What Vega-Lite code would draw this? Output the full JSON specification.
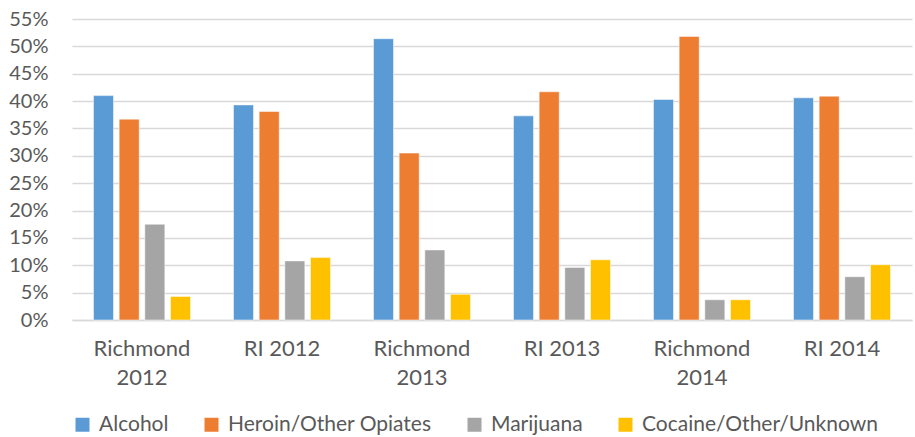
{
  "$schema": "https://vega.github.io/schema/vega-lite/v6.json",
  "autosize": {"type": "none"},
  "width": 840,
  "height": 301,
  "padding": {"left": 72, "top": 19, "right": 3, "bottom": 117},
  "background": "white",
  "data": {"values": [
    {"group": "Richmond 2012", "drug": "Alcohol", "value": 0.410},
    {"group": "Richmond 2012", "drug": "Heroin/Other Opiates", "value": 0.367},
    {"group": "Richmond 2012", "drug": "Marijuana", "value": 0.175},
    {"group": "Richmond 2012", "drug": "Cocaine/Other/Unknown", "value": 0.043},
    {"group": "RI 2012", "drug": "Alcohol", "value": 0.393},
    {"group": "RI 2012", "drug": "Heroin/Other Opiates", "value": 0.381},
    {"group": "RI 2012", "drug": "Marijuana", "value": 0.108},
    {"group": "RI 2012", "drug": "Cocaine/Other/Unknown", "value": 0.114},
    {"group": "Richmond 2013", "drug": "Alcohol", "value": 0.514},
    {"group": "Richmond 2013", "drug": "Heroin/Other Opiates", "value": 0.305},
    {"group": "Richmond 2013", "drug": "Marijuana", "value": 0.128},
    {"group": "Richmond 2013", "drug": "Cocaine/Other/Unknown", "value": 0.047},
    {"group": "RI 2013", "drug": "Alcohol", "value": 0.373},
    {"group": "RI 2013", "drug": "Heroin/Other Opiates", "value": 0.417},
    {"group": "RI 2013", "drug": "Marijuana", "value": 0.096},
    {"group": "RI 2013", "drug": "Cocaine/Other/Unknown", "value": 0.110},
    {"group": "Richmond 2014", "drug": "Alcohol", "value": 0.403},
    {"group": "Richmond 2014", "drug": "Heroin/Other Opiates", "value": 0.518},
    {"group": "Richmond 2014", "drug": "Marijuana", "value": 0.037},
    {"group": "Richmond 2014", "drug": "Cocaine/Other/Unknown", "value": 0.037},
    {"group": "RI 2014", "drug": "Alcohol", "value": 0.406},
    {"group": "RI 2014", "drug": "Heroin/Other Opiates", "value": 0.409},
    {"group": "RI 2014", "drug": "Marijuana", "value": 0.079},
    {"group": "RI 2014", "drug": "Cocaine/Other/Unknown", "value": 0.101}
  ]},
  "mark": {"type": "bar", "stroke": "white", "strokeWidth": 0.5},
  "encoding": {
    "x": {
      "field": "group", "type": "nominal",
      "sort": ["Richmond 2012", "RI 2012", "Richmond 2013", "RI 2013", "Richmond 2014", "RI 2014"],
      "scale": {"paddingInner": 0.307, "paddingOuter": 0.1535},
      "axis": {
        "title": null, "labelAngle": 0, "ticks": false,
        "domainColor": "#d9d9d9", "domainWidth": 1.5,
        "labelFont": "Lato", "labelFontSize": 22, "labelColor": "#595959",
        "labelPadding": 18, "labelLineHeight": 29, "labelBaseline": "top",
        "labelExpr": "indexof(datum.label, 'Richmond') == 0 ? split(datum.label, ' ') : datum.label"
      }
    },
    "xOffset": {
      "field": "drug", "type": "nominal",
      "sort": ["Alcohol", "Heroin/Other Opiates", "Marijuana", "Cocaine/Other/Unknown"],
      "scale": {"paddingInner": 0.22, "paddingOuter": 0}
    },
    "y": {
      "field": "value", "type": "quantitative",
      "scale": {"domain": [0, 0.55], "nice": false},
      "axis": {
        "title": null, "format": ".0%",
        "values": [0, 0.05, 0.1, 0.15, 0.2, 0.25, 0.3, 0.35, 0.4, 0.45, 0.5, 0.55],
        "domain": false, "ticks": false,
        "gridColor": "#d9d9d9", "gridWidth": 1.5,
        "labelFont": "Lato", "labelFontSize": 20, "labelColor": "#595959",
        "labelPadding": 24
      }
    },
    "color": {
      "field": "drug", "type": "nominal",
      "sort": ["Alcohol", "Heroin/Other Opiates", "Marijuana", "Cocaine/Other/Unknown"],
      "scale": {
        "domain": ["Alcohol", "Heroin/Other Opiates", "Marijuana", "Cocaine/Other/Unknown"],
        "range": ["#5B9BD5", "#ED7D31", "#A5A5A5", "#FFC000"]
      },
      "legend": {
        "title": null, "orient": "bottom", "direction": "horizontal",
        "symbolType": "square", "symbolSize": 196, "symbolStrokeWidth": 0,
        "labelFont": "Lato", "labelFontSize": 21, "labelColor": "#595959",
        "labelLimit": 0,
        "columnPadding": 32, "labelOffset": 6, "offset": 26
      }
    }
  },
  "config": {"view": {"stroke": null}}
}
